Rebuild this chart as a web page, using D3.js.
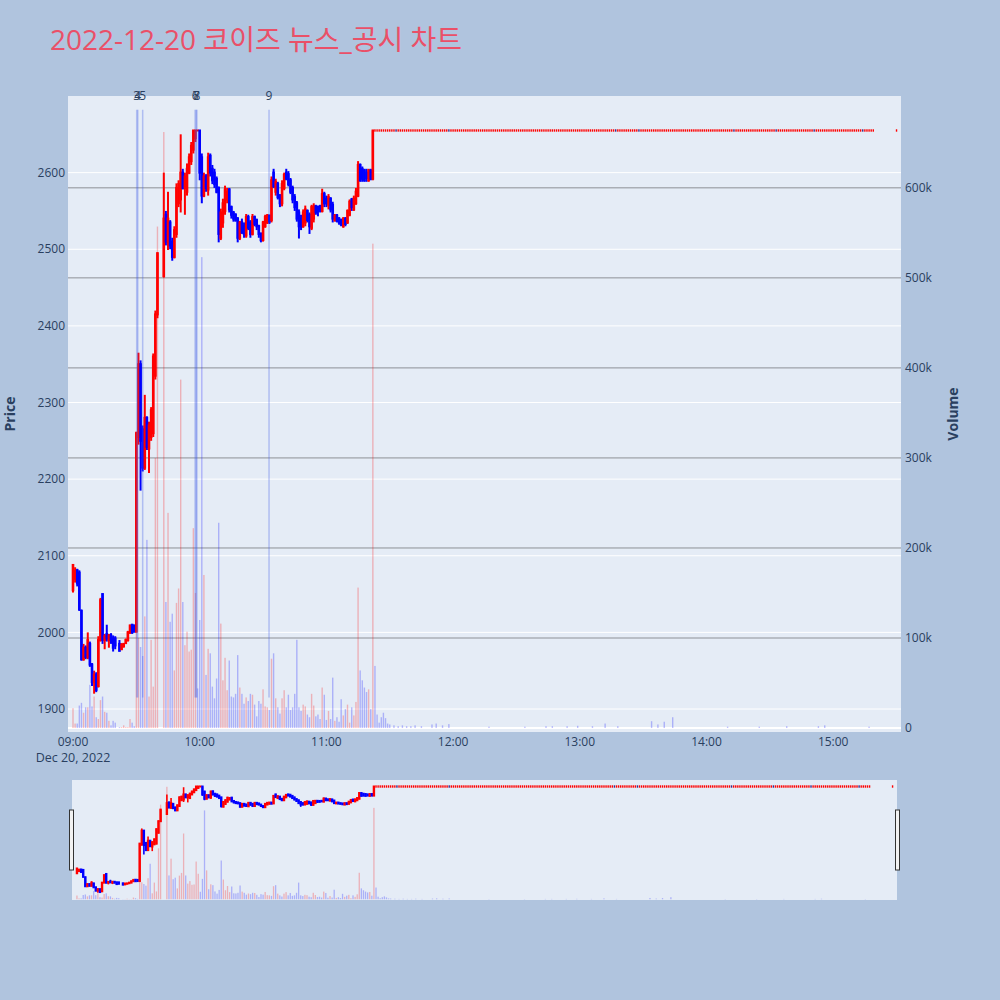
<!DOCTYPE html>
<html lang="ko">
<head>
<meta charset="UTF-8">
<script src="https://d3js.org/d3.v7.min.js"></script>
<title>코이즈 뉴스_공시 차트</title>
<style>
  body { margin: 0; background: #b0c4de; }
  text { font-family: "Open Sans", "Noto Sans CJK KR", sans-serif; }
</style>
</head>
<body>
<div id="chart"></div>
<script>
var day = "2022-12-20";
var chartTitle = "2022-12-20 코이즈 뉴스_공시 차트";

// 1-minute candles while the price was still moving
var times = ["09:00","09:01","09:02","09:03","09:04","09:05","09:06","09:07","09:08","09:09",
  "09:10","09:11","09:12","09:13","09:14","09:15","09:16","09:17","09:18","09:19","09:20",
  "09:22","09:23","09:24","09:25","09:26","09:27","09:28","09:29","09:30","09:31","09:32",
  "09:33","09:34","09:35","09:36","09:37","09:38","09:39","09:40",
  "09:43","09:44","09:45","09:46","09:47","09:48","09:49","09:50","09:51","09:52","09:53",
  "09:54","09:55","09:56","09:57","09:58","09:59",
  "10:00","10:01","10:02","10:03","10:04","10:05","10:06","10:07","10:08","10:09",
  "10:10","10:11","10:12","10:13","10:14","10:15","10:16","10:17","10:18","10:19",
  "10:20","10:21","10:22","10:23","10:24","10:25","10:26","10:27","10:28","10:29",
  "10:30","10:31","10:32","10:33","10:34","10:35","10:36","10:37","10:38","10:39",
  "10:40","10:41","10:42","10:43","10:44","10:45","10:46","10:47","10:48","10:49",
  "10:50","10:51","10:52","10:53","10:54","10:55","10:56","10:57","10:58","10:59",
  "11:00","11:01","11:02","11:03","11:04","11:05","11:06","11:07","11:08","11:09",
  "11:10","11:11","11:12","11:13","11:14","11:15","11:16","11:17","11:18","11:19",
  "11:20","11:21","11:22"];
var opens = [2055,2070,2081,2078,2028,1965,1980,1968,1985,1958,
  1935,1945,1930,1990,2050,1990,1998,1990,1996,1992,1992,
  1985,1978,1982,1986,1990,2000,2010,2009,2001,2255,2350,
  2265,2215,2280,2240,2255,2260,2335,2415,
  2465,2545,2510,2535,2510,2490,2520,2560,2565,2600,2580,
  2575,2600,2615,2630,2645,2655,
  2655,2620,2570,2595,2578,2622,2605,2600,2592,2580,
  2515,2535,2550,2565,2578,2555,2548,2545,2540,2515,
  2535,2530,2518,2542,2535,2520,2542,2538,2530,2520,
  2512,2530,2535,2544,2538,2600,2575,2585,2570,2560,
  2580,2600,2598,2590,2580,2568,2560,2548,2540,2530,
  2535,2550,2545,2528,2540,2556,2555,2556,2550,2572,
  2566,2558,2566,2558,2538,2544,2540,2538,2530,2540,
  2535,2545,2565,2552,2560,2570,2610,2605,2603,2600,
  2590,2603,2592];
var highs = [2089,2085,2083,2081,2030,1985,1983,2000,1988,1960,
  1950,1948,1995,2045,2051,1998,2010,1998,1999,1996,1995,
  1990,1986,1986,1992,2002,2010,2011,2010,2262,2365,2355,
  2270,2310,2282,2275,2294,2364,2420,2495,
  2600,2550,2575,2538,2515,2530,2586,2590,2650,2605,2600,
  2612,2625,2640,2655,2655,2655,
  2655,2625,2600,2598,2626,2625,2610,2605,2595,2582,
  2553,2566,2583,2580,2580,2557,2550,2547,2542,2537,
  2540,2535,2546,2545,2538,2546,2544,2540,2532,2522,
  2537,2545,2546,2545,2595,2605,2592,2588,2572,2590,
  2600,2605,2602,2593,2583,2572,2563,2552,2545,2552,
  2557,2552,2548,2558,2560,2558,2557,2558,2579,2575,
  2570,2572,2568,2562,2546,2546,2542,2540,2542,2542,
  2552,2565,2567,2570,2580,2615,2612,2608,2605,2605,
  2605,2605,2655];
var lows = [2052,2065,2060,2028,1963,1963,1965,1965,1955,1930,
  1920,1922,1928,1988,1985,1978,1988,1980,1985,1975,1978,
  1975,1977,1980,1985,1988,1998,1998,2000,2000,2245,2185,
  2210,2212,2238,2208,2250,2255,2330,2410,
  2463,2505,2499,2500,2485,2488,2515,2555,2548,2578,2545,
  2570,2598,2610,2625,2640,2655,
  2590,2560,2568,2575,2570,2595,2585,2580,2573,2509,
  2512,2528,2545,2560,2548,2540,2536,2536,2509,2512,
  2520,2515,2515,2525,2515,2518,2530,2525,2515,2509,
  2510,2528,2533,2533,2535,2580,2570,2565,2555,2556,
  2577,2590,2582,2572,2560,2550,2536,2514,2525,2528,
  2530,2535,2520,2525,2535,2545,2543,2548,2548,2555,
  2555,2552,2548,2535,2536,2535,2532,2530,2528,2530,
  2533,2543,2550,2550,2558,2568,2588,2588,2588,2588,
  2588,2590,2590];
var closes = [2088,2080,2064,2030,1965,1980,1968,1990,1958,1935,
  1945,1925,1990,2042,1990,1995,1992,1996,1990,1980,1983,
  1976,1984,1985,1990,2000,2009,2000,2001,2260,2350,2250,
  2215,2280,2242,2270,2290,2360,2415,2495,
  2540,2510,2540,2505,2490,2525,2580,2585,2600,2580,2595,
  2605,2620,2635,2655,2655,2655,
  2600,2570,2595,2580,2620,2600,2590,2585,2575,2520,
  2548,2560,2578,2575,2552,2545,2540,2538,2515,2535,
  2522,2520,2542,2528,2520,2542,2533,2530,2520,2512,
  2535,2542,2544,2536,2590,2582,2588,2568,2560,2585,
  2597,2592,2585,2575,2565,2555,2540,2530,2530,2548,
  2552,2538,2530,2555,2556,2548,2550,2552,2572,2560,
  2560,2568,2552,2540,2544,2537,2535,2532,2540,2533,
  2550,2562,2555,2566,2575,2610,2590,2592,2590,2593,
  2603,2592,2655];
// volume in thousands of shares
var volumesK = [22,5,5,25,28,17,23,23,48,24,
  35,12,10,31,35,18,17,8,3,8,6,
  1,1,3,1,1,10,6,2,150,100,90,
  80,124,209,35,98,46,300,557,
  662,140,239,118,127,64,139,155,387,140,92,
  107,85,87,222,150,44,
  120,523,170,59,88,83,46,33,55,228,
  116,53,78,42,75,35,34,38,81,45,
  38,27,34,30,38,37,26,13,30,27,
  43,24,23,20,77,83,33,23,16,33,
  42,23,37,20,23,38,98,23,19,26,
  24,15,12,38,25,13,15,10,45,37,
  9,19,10,56,8,12,7,32,14,21,
  26,6,23,14,29,156,64,53,45,40,
  43,21,538];

// locked at the upper limit for the rest of the session
var limitPrice = 2655;
var limitFrom = "11:23", limitTo = "15:19", closingTick = "15:30";
var limitDarkTicks = ["11:33","11:58","13:17","13:28","14:13","14:33","14:51","15:14"];
var limitVolTimes = ["11:23","11:24","11:25","11:26","11:27","11:28","11:29","11:30","11:32","11:34",
  "11:36","11:38","11:40","11:42","11:45","11:50","11:52","11:55","11:58","12:17","12:34",
  "12:44","12:47","12:54","12:59","13:06","13:12","13:18","13:34","13:37","13:40","13:44",
  "14:10","14:25","14:38","14:53","14:56","15:17"];
var limitVolK = [69,15,6,12,17,11,5,4,3,2,
  3,2,2,3,2,4,5,3,4.4,1.5,1.5,
  2,2,2,2.5,2,5,2,7.6,4,7,12,
  1.5,1.5,2,2,3,1.5];

// news markers
var newsLabels = ["3","4","5","6","7","8","9"];
var newsTimes = ["09:30:10","09:30:40","09:33:00","09:57:50","09:58:20","09:58:40","10:32:50"];

var priceTicks = [1900,2000,2100,2200,2300,2400,2500,2600];
var volumeTicks = [0,100000,200000,300000,400000,500000,600000];
var hourTicks = ["09:00","10:00","11:00","12:00","13:00","14:00","15:00"];

var parse = d3.timeParse("%Y-%m-%d %H:%M:%S");
function toDate(s) { return parse(day + " " + (s.length === 5 ? s + ":00" : s)); }

var candles = times.map(function(s, i) {
  return {time: toDate(s), o: opens[i], h: highs[i], l: lows[i], c: closes[i], v: volumesK[i] * 1000};
});
var darkSet = new Set(limitDarkTicks);
var limitCandles = [];
for (var d = toDate(limitFrom); d <= toDate(limitTo); d = d3.timeMinute.offset(d, 1)) {
  limitCandles.push({time: d, o: limitPrice, h: limitPrice, l: limitPrice, c: limitPrice, flat: true,
    dark: darkSet.has(d3.timeFormat("%H:%M")(d))});
}
limitCandles.push({time: toDate(closingTick), o: limitPrice, h: limitPrice, l: limitPrice, c: limitPrice, flat: true});
var allCandles = candles.concat(limitCandles);

var volBars = candles.map(function(d) { return {time: d.time, v: d.v, up: d.c > d.o}; })
  .concat(limitVolTimes.map(function(s, i) { return {time: toDate(s), v: limitVolK[i] * 1000, up: false}; }));

var RED = "#ff0000", BLUE = "#0000ff";
function candleColor(d) {
  if (d.c > d.o) return RED;
  if (d.c < d.o) return BLUE;
  return d.dark ? "#3a2a8a" : RED;
}

var W = 1000, H = 1000;
var svg = d3.select("#chart").append("svg").attr("width", W).attr("height", H)
  .style("background", "#b0c4de");

var plot = {left: 68, right: 901, top: 96, bottom: 732};
var slider = {left: 72, right: 897, top: 780, bottom: 900};
var xDomain = [toDate("08:57:38"), toDate("15:32:07")];
var priceDomain = [1870, 2700];
var volDomain = [-4400, 702000];

var x = d3.scaleTime().domain(xDomain).range([plot.left, plot.right]);
var y = d3.scaleLinear().domain(priceDomain).range([plot.bottom, plot.top]);
var yv = d3.scaleLinear().domain(volDomain).range([plot.bottom, plot.top]);

var xs = d3.scaleTime().domain(xDomain).range([slider.left, slider.right]);
var ys = d3.scaleLinear().domain(priceDomain).range([slider.bottom, slider.top]);
var yvs = d3.scaleLinear().domain(volDomain).range([slider.bottom, slider.top]);

// title
svg.append("text").attr("x", 50).attr("y", 50)
  .attr("font-size", 28).attr("fill", "#ea5068").text(chartTitle);

// main plot background
svg.append("rect").attr("x", plot.left).attr("y", plot.top)
  .attr("width", plot.right - plot.left).attr("height", plot.bottom - plot.top)
  .attr("fill", "#e5ecf6");

// price grid (white)
svg.append("g").selectAll("line").data(priceTicks).join("line")
  .attr("x1", plot.left).attr("x2", plot.right)
  .attr("y1", function(d) { return y(d); }).attr("y2", function(d) { return y(d); })
  .attr("stroke", "#fff").attr("stroke-width", 1);

// volume grid (grey) + zero line
svg.append("g").selectAll("line").data(volumeTicks.filter(function(d) { return d > 0; })).join("line")
  .attr("x1", plot.left).attr("x2", plot.right)
  .attr("y1", function(d) { return yv(d); }).attr("y2", function(d) { return yv(d); })
  .attr("stroke", "#8d9096").attr("stroke-width", 1);
svg.append("line").attr("x1", plot.left).attr("x2", plot.right)
  .attr("y1", yv(0)).attr("y2", yv(0)).attr("stroke", "#fff").attr("stroke-width", 2);

function drawCandles(g, sx, sy, bodyW, wickW, flatW) {
  var moving = allCandles.filter(function(d) { return !d.flat; });
  var flat = allCandles.filter(function(d) { return d.flat; });
  g.append("g").selectAll("line").data(moving).join("line")
    .attr("x1", function(d) { return sx(d.time); }).attr("x2", function(d) { return sx(d.time); })
    .attr("y1", function(d) { return sy(d.h); }).attr("y2", function(d) { return sy(d.l); })
    .attr("stroke", candleColor).attr("stroke-width", wickW);
  g.append("g").selectAll("rect").data(moving).join("rect")
    .attr("x", function(d) { return sx(d.time) - bodyW / 2; })
    .attr("y", function(d) { return sy(Math.max(d.o, d.c)) - 1; })
    .attr("width", bodyW)
    .attr("height", function(d) { return Math.abs(sy(d.o) - sy(d.c)) + 2; })
    .attr("fill", candleColor);
  // open == close: a short tick
  g.append("g").selectAll("rect").data(flat).join("rect")
    .attr("x", function(d) { return sx(d.time) - flatW / 2; })
    .attr("y", function(d) { return sy(d.c) - 1.2; })
    .attr("width", flatW).attr("height", 2.4)
    .attr("fill", candleColor);
}
function drawVolume(g, sx, sy, barW) {
  g.append("g").selectAll("rect").data(volBars).join("rect")
    .attr("x", function(d) { return sx(d.time) - barW / 2; })
    .attr("y", function(d) { return sy(d.v); })
    .attr("width", barW)
    .attr("height", function(d) { return sy(0) - sy(d.v); })
    .attr("fill", function(d) { return d.up ? RED : BLUE; })
    .attr("fill-opacity", 0.25);
}

var main = svg.append("g");
drawCandles(main, x, y, 2.6, 2, 1.4);
drawVolume(main, x, yv, 1.4);

// news markers
var news = newsTimes.map(function(s, i) { return {time: toDate(s), label: newsLabels[i]}; });
main.append("g").selectAll("line").data(news).join("line")
  .attr("x1", function(d) { return x(d.time); }).attr("x2", function(d) { return x(d.time); })
  .attr("y1", y(1915)).attr("y2", y(2682))
  .attr("stroke", "#3f5ae6").attr("stroke-opacity", 0.32).attr("stroke-width", 1.5);
main.append("g").selectAll("text").data(news).join("text")
  .attr("x", function(d) { return x(d.time); }).attr("y", plot.top + 4)
  .attr("text-anchor", "middle").attr("font-size", 12).attr("fill", "#2a3f5f")
  .text(function(d) { return d.label; });

// axes labels
var axisColor = "#2a3f5f";
svg.append("g").selectAll("text").data(priceTicks).join("text")
  .attr("x", plot.left - 3).attr("y", function(d) { return y(d); }).attr("dy", "0.35em")
  .attr("text-anchor", "end").attr("font-size", 12).attr("fill", axisColor)
  .text(function(d) { return d; });
svg.append("g").selectAll("text").data(volumeTicks).join("text")
  .attr("x", plot.right + 4).attr("y", function(d) { return yv(d); }).attr("dy", "0.35em")
  .attr("font-size", 12).attr("fill", axisColor)
  .text(d3.format("~s"));
svg.append("g").selectAll("text").data(hourTicks).join("text")
  .attr("x", function(d) { return x(toDate(d)); }).attr("y", 746)
  .attr("text-anchor", "middle").attr("font-size", 12).attr("fill", axisColor)
  .text(function(d) { return d; });
svg.append("text").attr("x", x(toDate(hourTicks[0]))).attr("y", 762)
  .attr("text-anchor", "middle").attr("font-size", 12.5).attr("fill", axisColor)
  .text(d3.timeFormat("%b %-d, %Y")(toDate(hourTicks[0])));

svg.append("text").attr("transform", "translate(15,414) rotate(-90)")
  .attr("text-anchor", "middle").attr("font-size", 14).attr("font-weight", "bold")
  .attr("fill", axisColor).text("Price");
svg.append("text").attr("transform", "translate(958,414) rotate(-90)")
  .attr("text-anchor", "middle").attr("font-size", 14).attr("font-weight", "bold")
  .attr("fill", axisColor).text("Volume");

// range slider
svg.append("rect").attr("x", slider.left).attr("y", slider.top)
  .attr("width", slider.right - slider.left).attr("height", slider.bottom - slider.top)
  .attr("fill", "#e5ecf6");
var mini = svg.append("g");
drawCandles(mini, xs, ys, 2.4, 1.6, 1.4);
drawVolume(mini, xs, yvs, 1.3);
[slider.left - 2.5, slider.right - 1.5].forEach(function(hx) {
  svg.append("rect").attr("x", hx).attr("y", 810).attr("width", 4).attr("height", 60)
    .attr("fill", "#f2f2f2").attr("stroke", "#333").attr("stroke-width", 1);
});
</script>
</body>
</html>
